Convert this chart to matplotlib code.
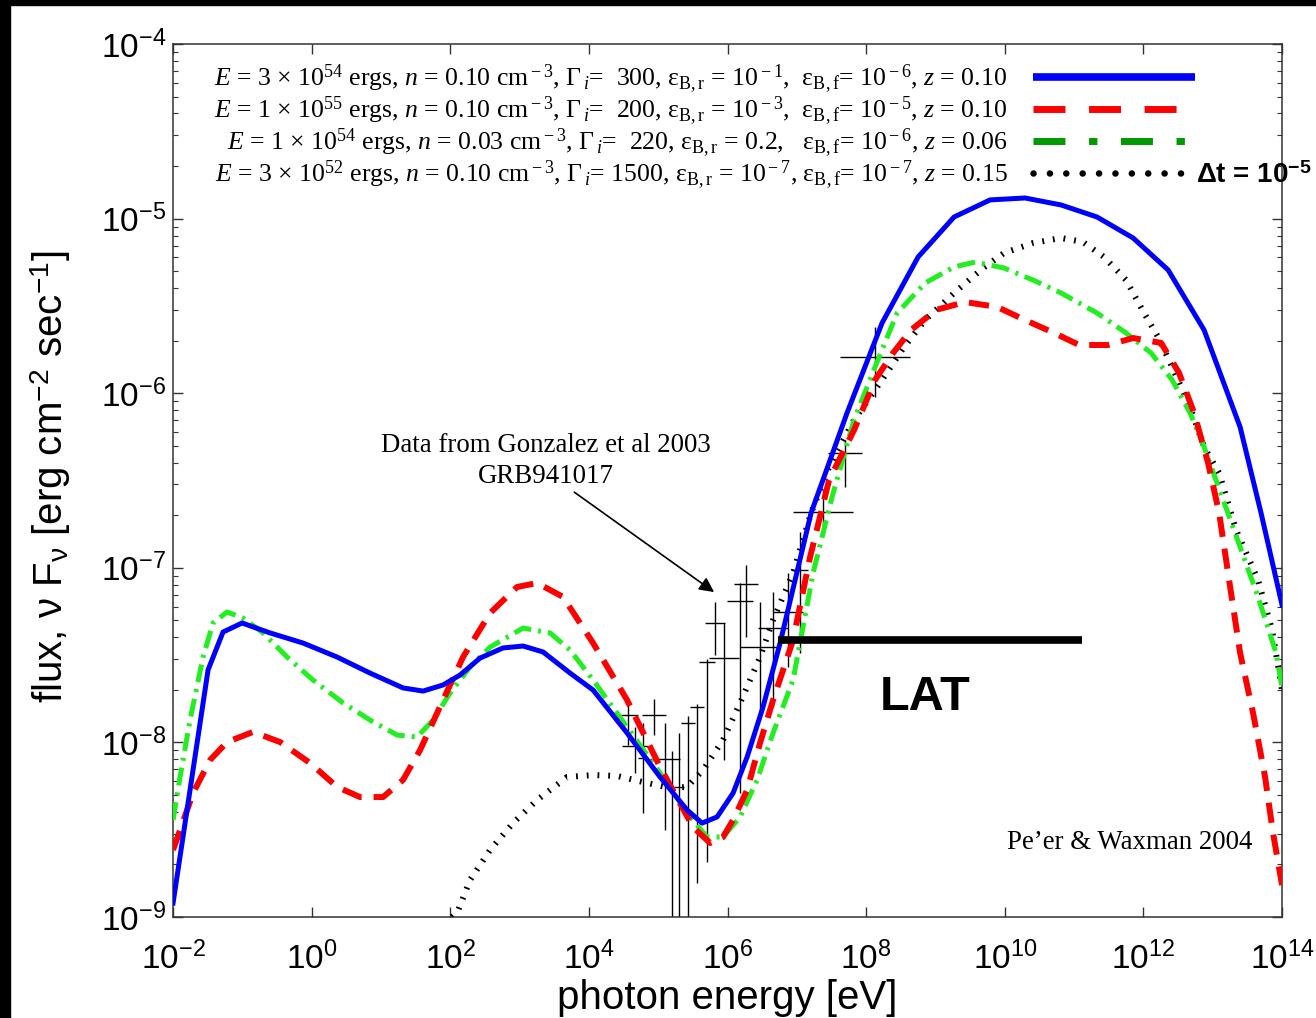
import numpy as np
import matplotlib.pyplot as plt
from matplotlib.lines import Line2D
from matplotlib.patches import Rectangle
from matplotlib.ticker import NullLocator, FixedLocator

plt.rcParams['font.family'] = ['Liberation Sans', 'DejaVu Sans']
plt.rcParams['mathtext.fontset'] = 'custom'
plt.rcParams['mathtext.rm'] = 'Liberation Serif'
plt.rcParams['mathtext.it'] = 'Liberation Serif:italic'
plt.rcParams['mathtext.sf'] = 'Liberation Sans'
plt.rcParams['mathtext.bf'] = 'Liberation Sans:bold'

# model spectra (log10 of photon energy [eV] and of nu F_nu)
blue_logE = [-2.0, -1.495, -1.279, -1.004, -0.600, -0.124, 0.366, 0.842, 1.318, 1.607,
             1.896, 2.141, 2.429, 2.761, 3.050, 3.338, 3.728, 4.060, 4.550, 5.026,
             5.416, 5.632, 5.849, 6.080, 6.282, 6.512, 6.758, 7.205, 7.724, 8.229,
             8.749, 9.268, 9.788, 10.292, 10.812, 11.331, 11.851, 12.356, 12.875, 13.395,
             13.697, 14.0]
blue_logF = [-8.92, -7.585, -7.368, -7.316, -7.373, -7.431, -7.511, -7.603, -7.688, -7.706,
             -7.671, -7.614, -7.517, -7.459, -7.448, -7.482, -7.603, -7.700, -7.946, -8.198,
             -8.387, -8.462, -8.427, -8.290, -8.084, -7.797, -7.431, -6.686, -6.113, -5.598,
             -5.220, -4.991, -4.893, -4.882, -4.922, -4.991, -5.111, -5.294, -5.638, -6.194,
             -6.686, -7.213]

red_logE = [-2.0, -1.711, -1.466, -1.221, -0.846, -0.456, -0.023, 0.366, 0.698, 1.030,
            1.318, 1.564, 1.896, 2.184, 2.574, 2.963, 3.252, 3.627, 4.060, 4.550,
            5.026, 5.503, 5.748, 5.935, 6.080, 6.282, 6.469, 6.657, 6.945, 7.191,
            7.465, 7.825, 8.128, 8.388, 8.648, 9.008, 9.427, 9.889, 10.292, 10.711,
            11.072, 11.490, 11.851, 12.255, 12.514, 12.731, 12.933, 13.092, 13.236, 13.395,
            13.582, 13.755, 13.870, 14.0]
red_logF = [-8.616, -8.290, -8.101, -7.998, -7.940, -7.998, -8.118, -8.255, -8.313, -8.313,
            -8.215, -8.044, -7.757, -7.511, -7.259, -7.110, -7.087, -7.167, -7.431, -7.757,
            -8.141, -8.485, -8.576, -8.542, -8.444, -8.273, -8.003, -7.757, -7.414, -6.938,
            -6.497, -6.211, -5.924, -5.770, -5.638, -5.523, -5.478, -5.506, -5.581, -5.655,
            -5.724, -5.724, -5.684, -5.712, -5.884, -6.113, -6.400, -6.686, -7.070, -7.488,
            -7.832, -8.198, -8.519, -8.817]

green_logE = [-2.0, -1.899, -1.755, -1.567, -1.423, -1.221, -0.990, -0.701, -0.355, 0.020,
              0.453, 0.842, 1.232, 1.520, 1.751, 1.997, 2.285, 2.574, 3.050, 3.439,
              3.728, 4.060, 4.550, 5.026, 5.416, 5.704, 5.935, 6.181, 6.426, 6.657,
              6.945, 7.234, 7.508, 7.825, 8.128, 8.446, 8.850, 9.268, 9.571, 9.989,
              10.408, 10.812, 11.331, 11.750, 12.111, 12.414, 12.673, 12.875, 13.135, 13.395,
              13.654, 13.914, 14.0]
green_logF = [-8.444, -8.198, -7.872, -7.511, -7.316, -7.253, -7.288, -7.373, -7.511, -7.643,
              -7.774, -7.872, -7.958, -7.969, -7.872, -7.717, -7.568, -7.454, -7.345, -7.373,
              -7.471, -7.643, -7.912, -8.175, -8.404, -8.542, -8.542, -8.427, -8.215, -7.946,
              -7.643, -7.030, -6.594, -6.153, -5.850, -5.541, -5.369, -5.277, -5.249, -5.283,
              -5.352, -5.426, -5.541, -5.655, -5.770, -5.924, -6.113, -6.308, -6.594, -6.881,
              -7.167, -7.488, -7.688]

black_logE = [2.025, 2.098, 2.285, 2.574, 2.905, 3.252, 3.685, 4.060, 4.406, 4.781,
              5.171, 5.416, 5.647, 5.935, 6.181, 6.469, 6.657, 6.945, 7.205, 7.465,
              7.825, 8.229, 8.547, 8.850, 9.268, 9.687, 9.989, 10.408, 10.812, 11.129,
              11.432, 11.750, 12.009, 12.211, 12.414, 12.673, 12.875, 13.092, 13.337, 13.654,
              13.856, 14.0]
black_logF = [-9.0, -8.977, -8.788, -8.616, -8.462, -8.330, -8.198, -8.187, -8.192, -8.227,
              -8.261, -8.255, -8.158, -7.986, -7.774, -7.511, -7.299, -7.030, -6.686, -6.423,
              -6.153, -5.924, -5.735, -5.581, -5.426, -5.283, -5.197, -5.140, -5.111, -5.134,
              -5.220, -5.352, -5.541, -5.678, -5.850, -6.079, -6.308, -6.457, -6.783, -7.070,
              -7.356, -7.700]

# GRB941017 data points (log10): centre, error bar top / bottom, half width in energy
data_logE = [4.565, 4.666, 4.781, 4.940, 5.099, 5.199, 5.300, 5.430, 5.560, 5.704,
             5.820, 5.950, 6.181, 6.267, 6.469, 6.657, 6.873, 7.046, 7.378, 7.696, 8.128]
data_logF = [-7.843, -8.021, -8.089, -7.843, -8.095, -8.100, -8.255, -7.889, -7.797, -7.540,
             -7.316, -7.517, -7.190, -7.093, -7.454, -7.345, -7.253, -7.013, -6.680, -6.342, -5.793]
data_top = [-7.757, -7.912, -7.889, -7.751, -7.889, -8.050, -7.946, -7.850, -7.780, -7.520,
            -7.196, -7.316, -7.087, -6.984, -7.196, -7.139, -7.030, -6.795, -6.554, -6.268, -5.621]
data_bot = [-8.015, -8.175, -8.404, -7.958, -8.502, -9.5, -9.5, -9.5, -8.805, -8.685,
            -7.499, -8.101, -8.290, -7.396, -7.872, -7.797, -7.568, -7.488, -6.795, -6.537, -6.022]
data_dx = [0.144, 0.188, 0.07, 0.173, 0.216, 0.0, 0.07, 0.10, 0.10, 0.115,
           0.144, 0.216, 0.188, 0.173, 0.289, 0.216, 0.216, 0.115, 0.433, 0.245, 0.505]

# LAT sensitivity bar
lat_logE = [6.729, 11.115]
lat_logF = -7.414

labels = [
    r"$E$ = 3 × 10$^{\rm 54}$ ergs, $n$ = 0.10 cm$^{\rm -3}$, Γ$_{\,i}$=  300, ε$_{\rm B,r}$ = 10$^{\rm -1}$,  ε$_{\rm B,f}$= 10$^{\rm -6}$, $z$ = 0.10",
    r"$E$ = 1 × 10$^{\rm 55}$ ergs, $n$ = 0.10 cm$^{\rm -3}$, Γ$_{\,i}$=  200, ε$_{\rm B,r}$ = 10$^{\rm -3}$,  ε$_{\rm B,f}$= 10$^{\rm -5}$, $z$ = 0.10",
    r"$E$ = 1 × 10$^{\rm 54}$ ergs, $n$ = 0.03 cm$^{\rm -3}$, Γ$_{\,i}$=  220, ε$_{\rm B,r}$ = 0.2,   ε$_{\rm B,f}$= 10$^{\rm -6}$, $z$ = 0.06",
    r"$E$ = 3 × 10$^{\rm 52}$ ergs, $n$ = 0.10 cm$^{\rm -3}$, Γ$_{\,i}$= 1500, ε$_{\rm B,r}$ = 10$^{\rm -7}$, ε$_{\rm B,f}$= 10$^{\rm -7}$, $z$ = 0.15",
]


def pw(a):
    return 10.0 ** np.asarray(a, dtype=float)


fig = plt.figure(figsize=(13.16, 10.18), dpi=100)
ax = fig.add_axes([0.1315, 0.0992, 0.8427, 0.8576])

# error bars of the data
yc = pw(data_logF)
xc = pw(data_logE)
ylow = yc - pw(data_bot)
yhigh = pw(data_top) - yc
xlow = xc - pw(np.array(data_logE) - np.array(data_dx))
xhigh = pw(np.array(data_logE) + np.array(data_dx)) - xc
ax.errorbar(xc, yc, xerr=[xlow, xhigh], yerr=[ylow, yhigh], fmt='none',
            ecolor='black', elinewidth=1.0, capsize=0, zorder=2)

ax.plot(pw(black_logE), pw(black_logF), color='black', lw=4.3,
        dashes=(0.3, 1.5), zorder=3)
ax.plot(pw(green_logE), pw(green_logF), color='#22ee22', lw=3.6,
        dashes=(3.6, 1.4, 0.6, 1.4), zorder=4)
ax.plot(pw(red_logE), pw(red_logF), color='#ff0000', lw=4.3,
        dashes=(3.4, 2.0), zorder=5)
ax.plot(pw(blue_logE), pw(blue_logF), color='#0000ff', lw=3.6, zorder=6)

ax.plot(pw(lat_logE), [10 ** lat_logF] * 2, color='black', lw=5.5,
        solid_capstyle='butt', zorder=7)
ax.text(10 ** 8.85, 10 ** -7.74, 'LAT', fontsize=35, fontweight='bold',
        ha='center', va='center')

ax.annotate('Data from Gonzalez et al 2003\nGRB941017',
            xy=(10 ** 5.806, 10 ** -7.139), xytext=(10 ** 3.382, 10 ** -6.39),
            ha='center', va='center', fontsize=19.4, family='Liberation Serif',
            linespacing=1.33,
            arrowprops=dict(arrowstyle='-|>', color='black', lw=1.2,
                            mutation_scale=22, shrinkA=0, shrinkB=0,
                            relpos=(0.55, 0.1)))
ax.text(10 ** 13.568, 10 ** -8.576, 'Pe\u2019er & Waxman 2004', fontsize=19.4,
        family='Liberation Serif', ha='right', va='center')

ax.set_xscale('log')
ax.set_yscale('log')
ax.set_xlim(1e-2, 1e14)
ax.set_ylim(1e-9, 1e-4)
ax.xaxis.set_major_locator(FixedLocator([10.0 ** k for k in range(-2, 15, 2)]))
ax.xaxis.set_minor_locator(NullLocator())
ax.yaxis.set_major_locator(FixedLocator([10.0 ** k for k in range(-9, -3)]))
ax.yaxis.set_minor_locator(FixedLocator([m * 10.0 ** k for k in range(-9, -4)
                                         for m in range(2, 10)]))
ax.tick_params(which='both', direction='in', top=True, right=True,
               color='#333333', labelsize=24)
ax.tick_params(which='major', length=7, width=1.0)
ax.tick_params(which='minor', length=3.5, width=0.8)
ax.tick_params(axis='x', which='major', pad=18)
ax.tick_params(axis='y', which='major', pad=5)
for s in ax.spines.values():
    s.set_color('#333333')
    s.set_linewidth(1.1)

ax.set_xlabel('photon energy [eV]', fontsize=29)
ax.set_ylabel(r'flux, ν F$_\mathsf{ν}$ [erg cm$^\mathsf{-2}$ sec$^\mathsf{-1}$]',
              fontsize=29)
ax.xaxis.set_label_coords(0.5, -0.071)
ax.yaxis.set_label_coords(-0.090, 0.504)

# legend, text on the left of the line samples
handles = [
    Line2D([], [], color='#0000ff', lw=5.5, solid_capstyle='butt'),
    Line2D([], [], color='#ff0000', lw=5, dashes=(4.6, 3.4)),
    Line2D([], [], color='#009900', lw=5, dashes=(4.6, 3.4, 1.2, 3.4)),
    Line2D([], [], color='black', lw=4.7, dashes=(0.01, 2.5), dash_capstyle='round'),
]
ax.legend(handles, labels, loc='upper right',
          bbox_to_anchor=((1195 - 173) / 1109, 1 - 19 / 873),
          markerfirst=False, frameon=False, borderpad=0, borderaxespad=0,
          prop={'family': 'Liberation Serif', 'size': 18.5},
          handlelength=6.3, handletextpad=1.0, labelspacing=-0.05)
fig.text(1196 / 1316, 1 - 176 / 1018, r'Δt = 10$^{\mathbf{-5}}$', fontsize=20,
         fontweight='bold', ha='left', va='center')

# black frame strips of the original slide
fig.add_artist(Rectangle((0, 1 - 5 / 1018), 1, 5 / 1018, transform=fig.transFigure,
                         color='black', zorder=10))
fig.add_artist(Rectangle((0, 0), 10 / 1316, 1, transform=fig.transFigure,
                         color='black', zorder=10))

fig.savefig('out.png', dpi=100)
